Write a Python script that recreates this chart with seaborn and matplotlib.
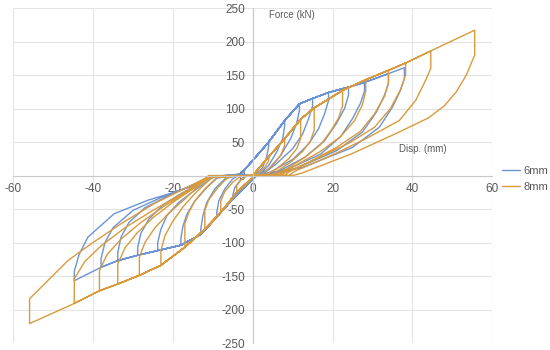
import matplotlib
matplotlib.use("Agg")
import pandas as pd
import seaborn as sns
import matplotlib.pyplot as plt

# ---- 6mm (blue) : peaks / post-peak drop / unloading branches
b_pos_d = [4, 8, 11.7, 15, 19, 24, 28, 34, 38]
b_pos_f = [50, 82, 107, 115, 124, 132, 139, 152, 161]
b_pos_drop = [44, 74, 97, 104, 112, 120, 126, 138, 145]
b_pos_unload = [
    [(3.5, 28), (2.5, 12), (1, 3)],
    [(7.5, 55), (6, 35), (4, 15), (2, 4)],
    [(11, 78), (9.5, 55), (7, 30), (4, 10), (2, 3)],
    [(14, 85), (12.5, 62), (10, 40), (6, 18), (3, 4)],
    [(18, 92), (16.5, 70), (14, 47), (10, 24), (5, 7), (3, 2)],
    [(23, 100), (21, 78), (18, 52), (13, 27), (7, 8), (4, 3)],
    [(27, 108), (25, 85), (22, 58), (17, 32), (9, 10), (5, 3)],
    [(33, 120), (31, 95), (27.5, 65), (21, 37), (11, 11), (6, 4)],
    [(37, 127), (35, 102), (31.7, 72), (25, 42), (12.5, 12), (6, 4)],
]
b_neg_d = [-5, -9, -13, -18, -23.8, -28.8, -33.8, -38, -44.7]
b_neg_f = [-35, -62, -88, -104, -112, -119, -127, -137, -157]
b_neg_drop = [-30, -55, -80, -94, -100, -107, -115, -124, -143]
b_neg_unload = [
    [(-4.5, -18), (-3, -6), (-2, -1)],
    [(-8.5, -38), (-7, -20), (-5, -5)],
    [(-12.5, -60), (-11.5, -40), (-9.5, -20), (-7, -5)],
    [(-17.5, -76), (-16.5, -58), (-14.5, -38), (-11.5, -18), (-9, -4)],
    [(-23, -80), (-21.5, -60), (-18.5, -40), (-14.5, -22), (-11, -7), (-9.5, -1)],
    [(-28, -86), (-26, -65), (-22.5, -44), (-18, -27), (-13, -11), (-10.5, -2)],
    [(-33, -92), (-31, -70), (-27, -48), (-21, -30), (-15, -14), (-11, -3)],
    [(-37, -100), (-35, -78), (-30, -52), (-23, -33), (-16, -17), (-11.3, -4)],
    [(-43.5, -118), (-41.3, -92), (-34.7, -57), (-26.3, -37), (-18, -22), (-11.3, -5)],
]
b_pos_start = (-3, 2)
b_neg_start = (1, 0)

# ---- 8mm (orange)
o_pos_d = [4, 8, 12, 15.4, 22.5, 28.3, 34, 38.3, 44.6, 55.6]
o_pos_f = [28, 55, 84, 101, 127, 143, 157, 168, 186, 217]
o_pos_drop = [22, 45, 55, 68, 104, 126, 138, 150, 160, 180]
o_pos_unload = [
    [(3, 12), (1, 0)],
    [(7, 30), (5, 15), (2, 0)],
    [(11, 40), (9, 25), (6, 10), (3, 0)],
    [(14.5, 52), (12.5, 36), (9.5, 20), (5, 2), (4, 0)],
    [(21.5, 86), (19.5, 66), (17, 46), (13, 27), (8.5, 10), (5, 0)],
    [(27.5, 106), (25.5, 82), (22, 58), (17, 36), (11, 16), (7, 3), (6, 0)],
    [(33, 118), (30.5, 92), (27, 66), (21, 42), (14, 20), (8, 4), (7, 0)],
    [(37, 128), (34.5, 100), (30.5, 72), (24, 48), (16, 25), (9, 5), (8, 0)],
    [(43.3, 142), (40.8, 112), (36.7, 82), (29, 57), (20.8, 33), (10.8, 7), (9, 0)],
    [(53.5, 150), (51, 125), (48, 104), (44, 86), (36, 63), (25, 33), (12.5, 4), (10, 0)],
]
o_neg_d = [-4, -8, -12, -17, -23, -28.4, -33.8, -38.4, -44.7, -55.9]
o_neg_f = [-25, -55, -80, -107, -134, -149, -162, -172, -191, -221]
o_neg_drop = [-15, -38, -52, -72, -112, -122, -132, -142, -154, -184]
o_neg_unload = [
    [(-3, -7), (-1.5, -1)],
    [(-7, -24), (-5, -10), (-3, -1)],
    [(-11, -36), (-9, -20), (-7, -7), (-5.5, -1)],
    [(-16, -55), (-14.5, -38), (-12, -20), (-9.5, -6), (-8.5, -1)],
    [(-22, -90), (-20, -68), (-17.5, -47), (-14.5, -27), (-11.5, -10), (-10, -1)],
    [(-27, -100), (-24.5, -78), (-21, -56), (-17, -35), (-13.5, -15), (-10.5, -2)],
    [(-32, -108), (-29, -86), (-25, -63), (-20, -40), (-15, -20), (-11, -3)],
    [(-36.5, -118), (-33, -95), (-28, -70), (-22, -45), (-16, -22), (-11.5, -3)],
    [(-42, -128), (-38, -105), (-32, -78), (-25, -52), (-18, -28), (-11.5, -3), (-11, 0)],
    [(-46.3, -127), (-40.5, -102), (-33, -72), (-24.7, -42), (-11.3, -2.5), (-11, 0)],
]
o_pos_start = (0, 0)
o_neg_start = (0.5, 0)


def build_path(pos_start, pd_, pf, pdrop, punl, neg_start, nd, nf, ndrop, nunl):
    # each cycle: reload through earlier peaks, peak, drop, unload; then same on the negative side
    pts = [(0, 0)]
    for i in range(len(pd_)):
        pts.append(pos_start)
        pts += list(zip(pd_[:i], pf[:i]))
        pts += [(pd_[i], pf[i]), (pd_[i], pdrop[i])]
        pts += punl[i]
        pts.append(neg_start)
        pts += list(zip(nd[:i], nf[:i]))
        pts += [(nd[i], nf[i]), (nd[i], ndrop[i])]
        pts += nunl[i]
    return pts


frames = []
for name, args in [
    ("6mm", (b_pos_start, b_pos_d, b_pos_f, b_pos_drop, b_pos_unload,
             b_neg_start, b_neg_d, b_neg_f, b_neg_drop, b_neg_unload)),
    ("8mm", (o_pos_start, o_pos_d, o_pos_f, o_pos_drop, o_pos_unload,
             o_neg_start, o_neg_d, o_neg_f, o_neg_drop, o_neg_unload)),
]:
    p = build_path(*args)
    frames.append(pd.DataFrame({"disp": [q[0] for q in p],
                                "force": [q[1] for q in p],
                                "series": name}))
df = pd.concat(frames, ignore_index=True)

sns.set_theme(style="white")
plt.rcParams["font.family"] = ["Liberation Sans", "DejaVu Sans"]
plt.rcParams["axes.unicode_minus"] = False

fig, ax = plt.subplots(figsize=(5.5, 3.5), dpi=100)
fig.subplots_adjust(left=0.024, right=0.895, bottom=0.02, top=0.977)

sns.lineplot(data=df, x="disp", y="force", hue="series", sort=False,
             estimator=None, palette={"6mm": "#6b93d6", "8mm": "#d99a3c"},
             linewidth=1.0, ax=ax)

ax.set_xlim(-60, 60)
ax.set_ylim(-250, 250)
ax.set_xticks(range(-60, 61, 20))
ax.set_yticks(range(-250, 251, 50))
ax.set_xlabel("")
ax.set_ylabel("")
ax.grid(True, color="#e4e4e4", linewidth=0.8)
ax.set_axisbelow(True)
for s in ["top", "right"]:
    ax.spines[s].set_visible(False)
for s in ["left", "bottom"]:
    ax.spines[s].set_position("zero")
    ax.spines[s].set_color("#c8c8c8")
    ax.spines[s].set_linewidth(0.8)
ax.tick_params(length=0, labelsize=8.5, labelcolor="#595959", pad=5.5)

ax.text(4, 239, "Force (kN)", fontsize=7, color="#595959", ha="left", va="center")
ax.text(36.7, 40, "Disp. (mm)", fontsize=7, color="#595959", ha="left", va="center")

sns.move_legend(ax, "center left", bbox_to_anchor=(1.0, 0.49), frameon=False,
                title=None, fontsize=8, handlelength=1.6, handletextpad=0.3,
                labelcolor="#595959")

fig.savefig("out.png", dpi=100)
